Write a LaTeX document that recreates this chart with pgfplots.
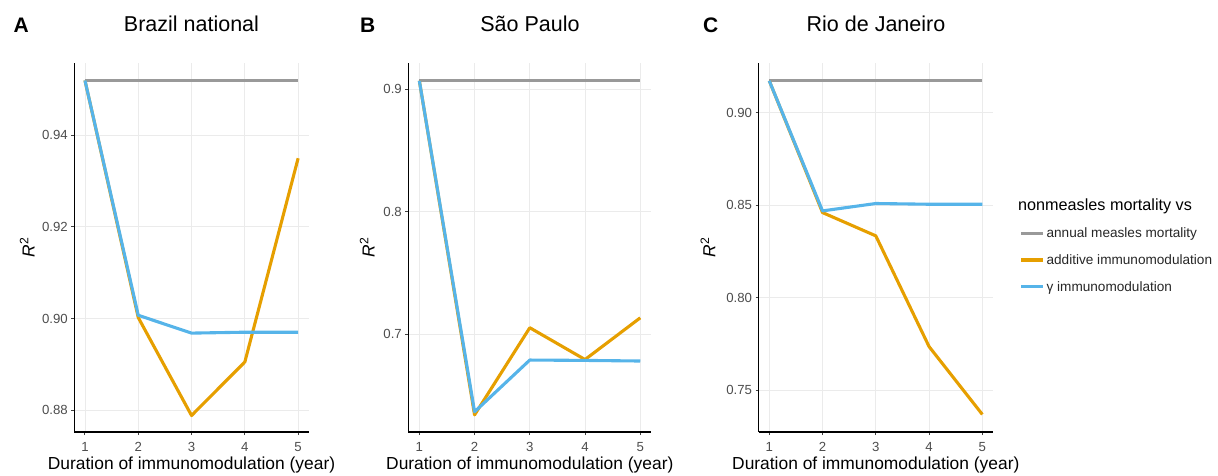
\documentclass[border=0pt]{standalone}
\usepackage{fontspec}
\setmainfont{Liberation Sans}
\usepackage{pgfplots}
\pgfplotsset{compat=1.18}

\definecolor{cgray}{HTML}{999999}
\definecolor{corange}{HTML}{E69F00}
\definecolor{cblue}{HTML}{56B4E9}
\definecolor{gridc}{HTML}{EBEBEB}
\definecolor{ticktext}{HTML}{4D4D4D}

\pgfplotsset{
  panel/.style={
    scale only axis, width=234.5pt, height=369pt, anchor=south west,
    xmin=0.8, xmax=5.2, xtick={1,2,3,4,5},
    axis x line*=bottom, axis y line*=left,
    axis line style={black, line width=1.1pt, -},
    grid=major, major grid style={gridc, line width=0.9pt},
    tick align=outside, major tick length=3pt,
    tick style={black!75, line width=1pt},
    tick label style={font=\fontsize{13.2}{15}\selectfont, text=ticktext},
    xticklabel style={yshift=-4pt},
    /pgf/number format/assume math mode=true,
    yticklabel style={/pgf/number format/fixed, /pgf/number format/zerofill,
      /pgf/number format/precision=2},
    xlabel={Duration of immunomodulation (year)},
    ylabel={\textit{R}\textsuperscript{2}},
    every axis x label/.style={at={(axis description cs:0.5,0)}, anchor=center,
      yshift=-33pt, font=\fontsize{17.4}{20}\selectfont},
    every axis y label/.style={at={(axis description cs:0,0.5)}, anchor=center,
      rotate=90, font=\fontsize{17.4}{20}\selectfont},
  },
  ser/.style={line width=3.1pt, line join=round},
}

\begin{document}
\begin{tikzpicture}[x=1pt,y=1pt]
\useasboundingbox (0,0) rectangle (1218,475);

% A
\begin{axis}[panel, at={(74.3pt,43pt)},
  ymin=0.8752, ymax=0.9558, ytick={0.88,0.90,0.92,0.94},
  ylabel style={yshift=47pt}]
\addplot[ser, cgray] coordinates {(1,0.952)(2,0.952)(3,0.952)(4,0.952)(5,0.952)};
\addplot[ser, corange] coordinates {(1,0.952)(2,0.9002)(3,0.8788)(4,0.8905)(5,0.9350)};
\addplot[ser, cblue] coordinates {(1,0.952)(2,0.9007)(3,0.8968)(4,0.8970)(5,0.8970)};
\end{axis}

% B
\begin{axis}[panel, at={(408.3pt,43pt)}, width=243pt,
  ymin=0.620, ymax=0.9215, ytick={0.7,0.8,0.9},
  yticklabel style={/pgf/number format/precision=1},
  ylabel style={yshift=41pt}]
\addplot[ser, cgray] coordinates {(1,0.907)(2,0.907)(3,0.907)(4,0.907)(5,0.907)};
\addplot[ser, corange] coordinates {(1,0.907)(2,0.634)(3,0.7052)(4,0.6792)(5,0.7133)};
\addplot[ser, cblue] coordinates {(1,0.907)(2,0.6365)(3,0.6788)(4,0.6785)(5,0.678)};
\end{axis}

% C
\begin{axis}[panel, at={(758.6pt,43pt)}, width=234.4pt,
  ymin=0.7273, ymax=0.9269, ytick={0.75,0.80,0.85,0.90},
  ylabel style={yshift=50.7pt},
  legend style={at={(axis description cs:1.1135,0.466)}, anchor=west,
    draw=none, fill=none, inner sep=0pt, row sep=11.5pt,
    /tikz/every even column/.append style={column sep=10pt},
    font=\fontsize{13.6}{15}\selectfont, text=black!85},
  legend cell align=left,
  legend image code/.code={\draw[#1] (0pt,0pt) -- (21.7pt,0pt);}]
\addplot[ser, cgray] coordinates {(1,0.9173)(2,0.9173)(3,0.9173)(4,0.9173)(5,0.9173)};
\addlegendentry{annual measles mortality}
\addplot[ser, corange] coordinates {(1,0.9173)(2,0.846)(3,0.8334)(4,0.7735)(5,0.7368)};
\addlegendentry{additive immunomodulation}
\addplot[ser, cblue] coordinates {(1,0.9173)(2,0.8469)(3,0.8509)(4,0.8505)(5,0.8505)};
\addlegendentry{γ immunomodulation}
\end{axis}

% titles and panel letters
\node[anchor=base, font=\fontsize{21.5}{24}\selectfont] at (191.5,443.3) {Brazil national};
\node[anchor=base, font=\fontsize{21.5}{24}\selectfont] at (530,443.3) {São Paulo};
\node[anchor=base, font=\fontsize{21.5}{24}\selectfont] at (876,443.3) {Rio de Janeiro};
\node[anchor=base west, inner sep=0pt, font=\fontsize{21}{24}\selectfont\bfseries] at (13.3,442.5) {A};
\node[anchor=base west, inner sep=0pt, font=\fontsize{21}{24}\selectfont\bfseries] at (360,442.5) {B};
\node[anchor=base west, inner sep=0pt, font=\fontsize{21}{24}\selectfont\bfseries] at (703,442.5) {C};
\node[anchor=west, inner sep=0pt, font=\fontsize{16.2}{18}\selectfont] at (1018,268.3) {nonmeasles mortality vs};
\end{tikzpicture}
\end{document}
